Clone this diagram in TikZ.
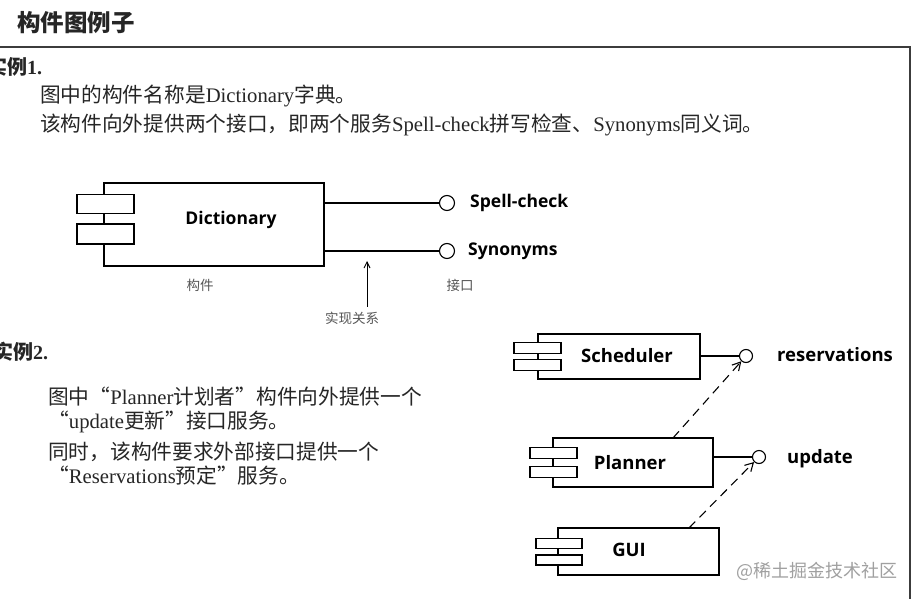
\documentclass[tikz,border=0pt]{standalone}
\usepackage{fontspec}
\setmainfont{Liberation Serif}
\newfontfamily\cjk{Noto Sans CJK SC}
\newfontfamily\umlfont{Open Sans}
\usetikzlibrary{arrows.meta}
\newcommand\zhtxt[1]{{\cjk #1}}
\definecolor{ink}{HTML}{262626}
\definecolor{framegray}{HTML}{3C3C3C}
\definecolor{notegray}{HTML}{555555}
\definecolor{wmgray}{HTML}{A0A0A0}
\begin{document}
\begin{tikzpicture}[x=1pt,y=-1pt,
  txt/.style={anchor=west, inner sep=0, text=ink, font=\fontsize{20.7}{24}\selectfont},
  note/.style={inner sep=0, text=notegray, font=\cjk\fontsize{13.5}{16}\selectfont},
  compbox/.style={draw, line width=1.1pt, fill=white, inner sep=0},
  umlA/.style={inner sep=0, text=black, font=\umlfont\bfseries\fontsize{17.5}{20}\selectfont},
  umlB/.style={inner sep=0, text=black, font=\umlfont\bfseries\fontsize{18.5}{21}\selectfont},
  iface/.style={draw, circle, line width=1.1pt, fill=white, inner sep=0},
  link/.style={line width=1.1pt},
  dep/.style={line width=1.1pt, dash pattern=on 9pt off 6pt, -{Straight Barb[length=8pt,width=9pt]}}
]
\useasboundingbox (0,0) rectangle (914,599);
\fill[white] (0,0) rectangle (914,599);

% header and frame
\node[anchor=west, inner sep=0, text=ink, font=\cjk\bfseries\fontsize{23.5}{26}\selectfont] (title) at (17,23) {构件图例子};
\draw[framegray, line width=2pt] (-2,47) -- (909.5,47) -- (909.5,602);

% example 1 text
\node[txt, font=\bfseries\fontsize{20}{24}\selectfont] (ex1) at (-13,67) {\zhtxt{\bfseries 实例}1.};
\node[txt] (p1a) at (40,96) {\zhtxt{图中的构件名称是}Dictionary\zhtxt{字典。}};
\node[txt] (p1b) at (40,125) {\zhtxt{该构件向外提供两个接口，即两个服务}Spell-check\zhtxt{拼写检查、}Synonyms\zhtxt{同义词。}};

% example 1 diagram
\node[compbox, minimum width=220, minimum height=83] (dict) at (214,224.5) {};
\node[compbox, minimum width=57, minimum height=19] (dictp1) at (105.5,204) {};
\node[compbox, minimum width=57, minimum height=20] (dictp2) at (105.5,234) {};
\node[umlA] (dictl) at (231,220) {Dictionary};
\node[iface, minimum size=15] (sc) at (447,203) {};
\node[iface, minimum size=15] (syn) at (447,251) {};
\draw[link] (sc -| dict.east) -- (sc);
\draw[link] (syn -| dict.east) -- (syn);
\node[umlA, anchor=west] (scl) at (470,203) {Spell-check};
\node[umlA, anchor=west] (synl) at (468,251) {Synonyms};
\node[note] (lcomp) at (200,285) {构件};
\node[note] (liface) at (460,285) {接口};
\node[note] (lreal) at (352,318) {实现关系};
\coordinate (realtip) at (367,261);
\draw[line width=0.9pt, -{Straight Barb[length=6pt,width=6pt]}] (lreal.north -| realtip) ++(0,-5) -- (realtip);

% example 2 text
\node[txt, font=\bfseries\fontsize{20}{24}\selectfont] (ex2) at (-7,352) {\zhtxt{\bfseries 实例}2.};
\node[txt] (p2a) at (48,397) {\zhtxt{图中“}Planner\zhtxt{计划者”构件向外提供一个}};
\node[txt] (p2b) at (48,422) {\zhtxt{“}update\zhtxt{更新”接口服务。}};
\node[txt] (p2c) at (48,452) {\zhtxt{同时，该构件要求外部接口提供一个}};
\node[txt] (p2d) at (48,476) {\zhtxt{“}Reservations\zhtxt{预定”服务。}};

% example 2 diagram
\node[compbox, minimum width=162, minimum height=45] (sched) at (619,356.5) {};
\node[compbox, minimum width=47, minimum height=11] (schedp1) at (537.5,348) {};
\node[compbox, minimum width=47, minimum height=11] (schedp2) at (537.5,365) {};
\node[umlB] (schedl) at (627,356) {Scheduler};

\node[compbox, minimum width=160, minimum height=49] (plan) at (633,462.5) {};
\node[compbox, minimum width=47, minimum height=11] (planp1) at (553.5,453) {};
\node[compbox, minimum width=47, minimum height=11] (planp2) at (553.5,472) {};
\node[umlB] (planl) at (630,463) {Planner};

\node[compbox, minimum width=161, minimum height=47] (gui) at (638.5,551.5) {};
\node[compbox, minimum width=46, minimum height=10] (guip1) at (559,543.5) {};
\node[compbox, minimum width=46, minimum height=10] (guip2) at (559,560) {};
\node[umlB] (guil) at (629,550) {GUI};

\node[iface, minimum size=13] (res) at (746,356) {};
\node[iface, minimum size=13] (upd) at (759,457) {};
\draw[link] (res -| sched.east) -- (res);
\draw[link] (upd -| plan.east) -- (upd);
\node[umlB, anchor=west] (resl) at (777,355) {reservations};
\node[umlB, anchor=west] (updl) at (787,459) {update};

\coordinate (planout) at (673,438);
\coordinate (guiout) at (689,528);
\draw[dep] (planout) -- (res);
\draw[dep] (guiout) -- (upd);

% watermark
\node[anchor=west, inner sep=0, text=wmgray, font=\cjk\fontsize{18}{20}\selectfont] (wm) at (736,571) {@稀土掘金技术社区};
\end{tikzpicture}
\end{document}
